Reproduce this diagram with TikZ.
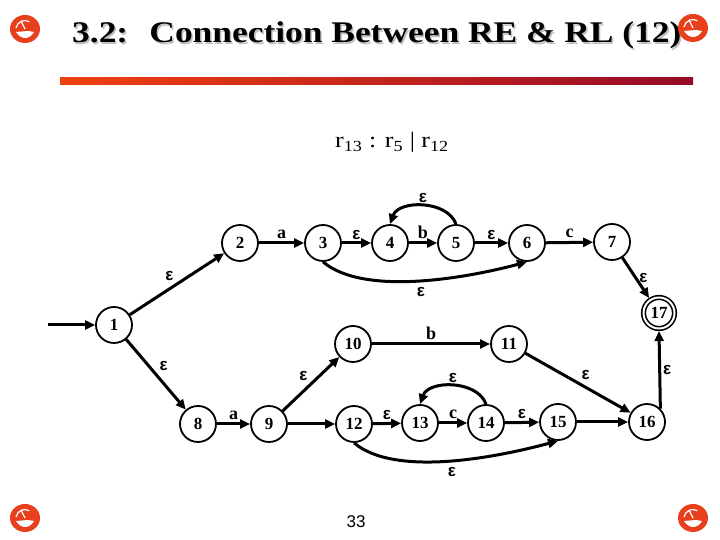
\documentclass[tikz,border=0pt]{standalone}
\usepackage{fontspec}
\setmainfont{Liberation Serif}
\setsansfont{Liberation Sans}
\newfontfamily\epsfont{Liberation Sans}
\usetikzlibrary{arrows.meta,calc}
\definecolor{iconred}{RGB}{232,64,28}
\definecolor{barleft}{RGB}{240,64,16}
\definecolor{barright}{RGB}{150,10,40}
\newcommand\slidetitle{\scalebox{1.18}[1]{\fontsize{30}{30}\selectfont\bfseries 3.2:\hspace{18pt}Connection Between RE \& RL (12)}}

\begin{document}
\begin{tikzpicture}[x=1pt,y=1pt,>={Triangle[length=10pt,width=9pt]},
 st/.style={draw,circle,line width=1.8pt,minimum size=36pt,inner sep=0pt,font=\fontsize{17}{17}\selectfont\bfseries},
 acc/.style={st,line width=1.6pt,double,double distance=2pt,minimum size=31pt,outer sep=2.5pt},
 tr/.style={->,line width=3pt},
 lab/.style={font=\fontsize{18}{18}\selectfont\bfseries,inner sep=3pt},
 eps/.style={font=\epsfont\fontsize{17}{17}\selectfont\bfseries,inner sep=2pt}]
\useasboundingbox (0,0) rectangle (720,540);
% header
\node[anchor=base west,inner sep=0,text=gray!50] (tshadow) at (73.5,495.5) {\slidetitle};
\node[anchor=base west,inner sep=0] (title) at (72,497) {\slidetitle};
\shade[left color=barleft,right color=barright] (60,455) rectangle (693,462);
\node[anchor=base west,inner sep=0] (sub) at (335,392) {\scalebox{1.18}[1]{\fontsize{22}{22}\selectfont r\textsubscript{13} : r\textsubscript{5} | r\textsubscript{12}}};
\node[font=\sffamily\fontsize{17}{17}\selectfont] (page) at (356,18) {33};
\foreach \x/\y in {25/511,693/512,25/22,693/22}{
 \begin{scope}[shift={(\x,\y)}]
 \fill[iconred] (0,0) ellipse (15 and 14);
 \draw[white,line width=1.2pt] (-9,1) arc (170:60:9);
 \draw[white,line width=1.2pt] (0,0) -- (-4,8);
 \fill[white] (-9,-3) .. controls (-3,-12) and (5,-10) .. (9,-3) -- (3,-2) -- cycle;
 \end{scope}}
% states
\node[st] (n1) at (114,215) {1};
\node[st] (n2) at (240,297) {2};\node[st] (n3) at (323,297) {3};
\node[st] (n4) at (390,297) {4};\node[st] (n5) at (456,297) {5};
\node[st] (n6) at (527,297) {6};\node[st] (n7) at (612,298) {7};
\node[acc] (n17) at (659,227) {17};
\node[st] (n10) at (353,196) {10};\node[st] (n11) at (509,196) {11};
\node[st] (n8) at (198,116) {8};\node[st] (n9) at (269,116) {9};
\node[st] (n12) at (354,116) {12};\node[st] (n13) at (420,117) {13};
\node[st] (n14) at (486,117) {14};\node[st] (n15) at (558,118) {15};
\node[st] (n16) at (647,118) {16};
\coordinate (start) at (48,215);
% transitions
\draw[tr] (start) -- (n1);
\draw[tr] (n1) -- node[eps,above left]{ε} (n2);
\draw[tr] (n1) -- node[eps,above right]{ε} (n8);
\draw[tr] (n2) -- node[lab,above]{a} (n3);
\draw[tr] (n3) -- node[eps,above]{ε} (n4);
\draw[tr] (n4) -- node[lab,above]{b} (n5);
\draw[tr] (n5.north) to[out=110,in=70] node[eps,above]{ε} (n4.north);
\draw[tr] (n3.south) to[out=-40,in=-165,looseness=0.7] node[eps,below=3pt]{ε} (n6.south);
\draw[tr] (n5) -- node[eps,above]{ε} (n6);
\draw[tr] (n6) -- node[lab,above]{c} (n7);
\draw[tr] (n7) -- node[eps,right]{ε} (n17);
\draw[tr] (n8) -- node[lab,above]{a} (n9);
\draw[tr] (n9) -- node[eps,above left]{ε} (n10);
\draw[tr] (n9) -- (n12);
\draw[tr] (n10) -- node[lab,above]{b} (n11);
\draw[tr] (n12) -- node[eps,above]{ε} (n13);
\draw[tr] (n13) -- node[lab,above]{c} (n14);
\draw[tr] (n14.north) to[out=110,in=70] node[eps,above]{ε} (n13.north);
\draw[tr] (n14) -- node[eps,above]{ε} (n15);
\draw[tr] (n12.south) to[out=-40,in=-165,looseness=0.7] node[eps,below=3pt]{ε} (n15.south);
\draw[tr] (n15) -- (n16);
\draw[tr] (n11) -- node[eps,above right]{ε} (n16);
\draw[tr] (n16.north east) -- node[eps,right]{ε} (n17.south);
\end{tikzpicture}
\end{document}
